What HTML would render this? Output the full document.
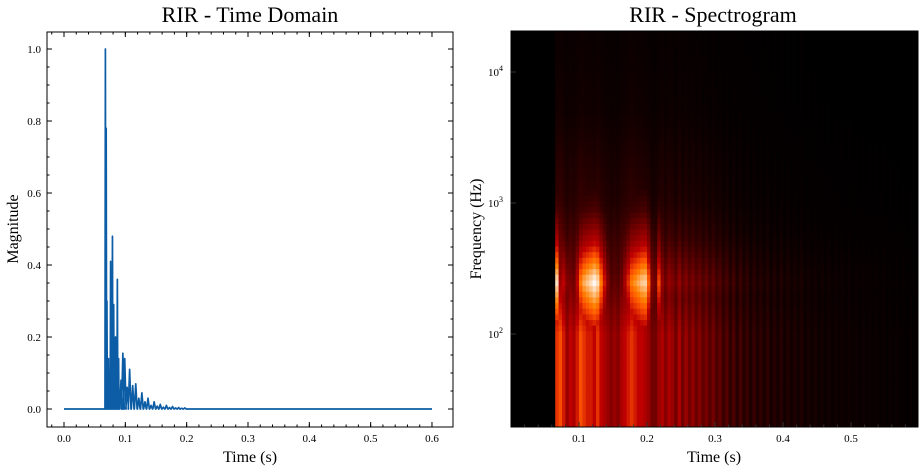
<!DOCTYPE html>
<html><head><meta charset="utf-8"><style>
body{margin:0;background:#fff;width:923px;height:470px;overflow:hidden}
svg text{font-family:"Liberation Serif",serif;fill:#000}
</style></head><body>
<svg id="s" width="923" height="470" xmlns="http://www.w3.org/2000/svg">
<text x="250" y="22" text-anchor="middle" font-size="22">RIR - Time Domain</text>
<text x="713" y="22" text-anchor="middle" font-size="22">RIR - Spectrogram</text>
<text x="250" y="462" text-anchor="middle" font-size="16">Time (s)</text>
<text x="714" y="462" text-anchor="middle" font-size="16">Time (s)</text>
<text transform="translate(18,229) rotate(-90)" text-anchor="middle" font-size="16">Magnitude</text>
<text transform="translate(481,229) rotate(-90)" text-anchor="middle" font-size="16">Frequency (Hz)</text>
<g id="left"></g>
<g id="right"></g>
</svg>
<script>
// ---- time domain data ----
const peakTimes = [0.0675,0.0688,0.070,0.0725,0.076,0.079,0.081,0.084,0.087,0.089,0.093,0.096,0.099,0.103,0.107,0.112,0.117,0.122,0.127,0.132,0.137,0.142,0.147,0.152,0.157,0.162,0.167,0.172,0.177,0.182,0.187,0.192,0.197];
const peakHeights = [1.0,0.78,0.3,0.14,0.41,0.48,0.29,0.2,0.36,0.14,0.08,0.155,0.14,0.06,0.11,0.065,0.07,0.03,0.045,0.02,0.03,0.01,0.02,0.008,0.013,0.005,0.01,0.004,0.007,0.003,0.004,0.002,0.003];
const xTicksL = [0,0.1,0.2,0.3,0.4,0.5,0.6];
const yTicksL = [0,0.2,0.4,0.6,0.8,1.0];
// ---- spectrogram data ----
const specStart = 0.065, specStep = 0.005;
const lowVals = [0.6,0.65,0.55,0.4,0.5,0.45,0.55,0.65,0.6,0.55,0.55,0.5,0.6,0.5,0.45,0.4,0.35,0.4,0.35,0.45,0.5,0.55,0.6,0.55,0.5,0.5,0.45,0.4,0.3,0.3,0.4,
 0.45,0.35,0.45,0.4,0.3,0.45,0.3,0.4,0.3,0.38,0.28,0.35,0.25,0.32,0.22,0.3,0.2,0.25,0.15,0.22,0.12,0.2,0.1,0.18,0.1,0.15,0.08,0.14,0.08,0.12,0.07,0.12,0.06,0.1,0.06,0.1,0.05,0.09,0.05,0.08,0.05,0.08,0.04,0.06,0.04,0.06,0.035,0.05,0.03,0.05,0.03,0.045,0.03,0.04,0.025,0.04,0.025,0.035,0.02,0.035,0.02,0.03,0.02,0.03,0.02,0.03,0.015,0.025,0.015,0.025,0.015,0.02,0.01,0.02,0.01,0.02];
const midVals = [0.95,0.3,0.5,0.35,0.3,0.3,0.5,0.75,0.85,0.9,0.95,1.0,0.95,0.75,0.55,0.35,0.2,0.2,0.15,0.3,0.45,0.6,0.75,0.8,0.85,0.9,0.92,0.7,0.35,0.3,0.65,
 0.4,0.3,0.4,0.35,0.28,0.4,0.28,0.35,0.27,0.33,0.25,0.3,0.22,0.28,0.2,0.26,0.18,0.22,0.14,0.2,0.11,0.18,0.09,0.16,0.09,0.13,0.07,0.12,0.07,0.1,0.06,0.1,0.05,0.09,0.05,0.09,0.045,0.08,0.045,0.07,0.045,0.07,0.035,0.05,0.035,0.05,0.03,0.045,0.025,0.045,0.025,0.04,0.025,0.035,0.02,0.035,0.02,0.03,0.02,0.03,0.02,0.025,0.02,0.025,0.015,0.025,0.015,0.02,0.015,0.02,0.01,0.02,0.01,0.015,0.01,0.015];
const xTicksR = [0.1,0.2,0.3,0.4,0.5];
const yTicksR = [2,3,4];

const NS='http://www.w3.org/2000/svg';
function mk(tag,attrs,parent){const e=document.createElementNS(NS,tag);for(const k in attrs)e.setAttribute(k,attrs[k]);parent.appendChild(e);return e;}

// ---- left plot ----
const L={x0:47,x1:453,y0:32,y1:427};
const xL=t=>64+t*613.3;
const yL=v=>409-v*360;
const gL=document.getElementById('left');
let d=`M${xL(0)},${yL(0)} L${xL(peakTimes[0]-0.0005)},${yL(0)}`;
peakTimes.forEach((t,i)=>{const w=t<0.09?0.0007:0.0022;d+=` L${xL(t-w)},${yL(0)} L${xL(t)},${yL(peakHeights[i])} L${xL(t+w)},${yL(0)}`;});
d+=` L${xL(0.6)},${yL(0)}`;
const line=mk('path',{d:d,fill:'none',stroke:'#0C5DA5','stroke-width':1.7,'stroke-linejoin':'round'},gL);


const frL=mk('rect',{x:L.x0,y:L.y0,width:L.x1-L.x0,height:L.y1-L.y0,fill:'none',stroke:'#000','stroke-width':1},gL);


xTicksL.forEach(t=>{const x=xL(t);
 mk('line',{x1:x,x2:x,y1:L.y1,y2:L.y1-5,stroke:'#000'},gL);mk('line',{x1:x,x2:x,y1:L.y0,y2:L.y0+5,stroke:'#000'},gL);
 const tx=mk('text',{x:x,y:L.y1+15,'text-anchor':'middle','font-size':11},gL);tx.textContent=t.toFixed(1);
 
 });
for(let t=-0.02;t<=0.62;t+=0.02){const x=xL(t);if(x<L.x0||x>L.x1)continue;mk('line',{x1:x,x2:x,y1:L.y1,y2:L.y1-2.5,stroke:'#000'},gL);mk('line',{x1:x,x2:x,y1:L.y0,y2:L.y0+2.5,stroke:'#000'},gL);}
yTicksL.forEach(v=>{const y=yL(v);
 mk('line',{x1:L.x0,x2:L.x0+5,y1:y,y2:y,stroke:'#000'},gL);mk('line',{x1:L.x1,x2:L.x1-5,y1:y,y2:y,stroke:'#000'},gL);
 const tx=mk('text',{x:L.x0-6,y:y+4,'text-anchor':'end','font-size':11},gL);tx.textContent=v.toFixed(1);
 
 });
for(let v=-0.05;v<=1.05;v+=0.05){const y=yL(v);if(y<L.y0||y>L.y1)continue;mk('line',{x1:L.x0,x2:L.x0+2.5,y1:y,y2:y,stroke:'#000'},gL);mk('line',{x1:L.x1,x2:L.x1-2.5,y1:y,y2:y,stroke:'#000'},gL);}

// ---- right plot ----
const R={x0:511,x1:918,y0:31,y1:427};
const xR=t=>511+t*680;
const yR=lf=>334-(lf-2)*131; // lf = log10(freq)
const gR=document.getElementById('right');
const bg=mk('rect',{x:R.x0,y:R.y0,width:R.x1-R.x0,height:R.y1-R.y0,fill:'#000'},gR);


function interp(pts,x){if(x<=pts[0][0])return pts[0][1];for(let i=1;i<pts.length;i++){if(x<=pts[i][0]){const a=pts[i-1],b=pts[i];return a[1]+(b[1]-a[1])*(x-a[0])/(b[0]-a[0]);}}return pts[pts.length-1][1];}
const lowShape=[[1.3,1],[2.0,1],[2.5,0.55],[3.0,0.22],[3.7,0.08],[4.3,0.05]];
const midShape=[[1.3,0],[1.8,0],[2.1,0.6],[2.4,1],[2.7,0.5],[2.95,0.2],[3.3,0]];
function cmap(v){v=Math.max(0,Math.min(1,v));const r=Math.min(1,1.5*v),g=Math.max(0,Math.min(1,2*v-1)),b=Math.max(0,Math.min(1,4*v-3));return `rgb(${Math.round(r*255)},${Math.round(g*255)},${Math.round(b*255)})`;}
const gCells=mk('g',{},gR);


const rows=70, lfMin=1.29, lfMax=4.31;
lowVals.forEach((lo,i)=>{const mid=midVals[i];const t0=specStart+i*specStep;const xa=xR(t0),xb=Math.min(R.x1,xR(t0+specStep));if(xa>=R.x1)return;
 for(let r=0;r<rows;r++){const la=lfMin+(lfMax-lfMin)*r/rows,lb=lfMin+(lfMax-lfMin)*(r+1)/rows,lc=(la+lb)/2;
  const v=Math.max(lo*interp(lowShape,lc),mid*interp(midShape,lc));
  const c=mk('rect',{x:xa,y:yR(lb),width:xb-xa+0.4,height:yR(la)-yR(lb)+0.4,fill:cmap(v)},gCells);
  
  }});
const frR=mk('rect',{x:R.x0,y:R.y0,width:R.x1-R.x0,height:R.y1-R.y0,fill:'none',stroke:'#000','stroke-width':1},gR);


xTicksR.forEach(t=>{const x=xR(t);
 mk('line',{x1:x,x2:x,y1:R.y1,y2:R.y1-5,stroke:'#333'},gR);
 const tx=mk('text',{x:x,y:R.y1+15,'text-anchor':'middle','font-size':11},gR);tx.textContent=t.toFixed(1);
 
 });
for(let t=0.02;t<0.6;t+=0.02){const x=xR(t);mk('line',{x1:x,x2:x,y1:R.y1,y2:R.y1-2.5,stroke:'#333'},gR);}
yTicksR.forEach(p=>{const y=yR(p);
 mk('line',{x1:R.x0,x2:R.x0+5,y1:y,y2:y,stroke:'#333'},gR);
 const tx=mk('text',{x:R.x0-8,y:y+4,'text-anchor':'end','font-size':11},gR);
 tx.textContent='10';const sp=mk('tspan',{dy:-5,'font-size':8},tx);sp.textContent=String(p);
 
 });
</script>
</body></html>
